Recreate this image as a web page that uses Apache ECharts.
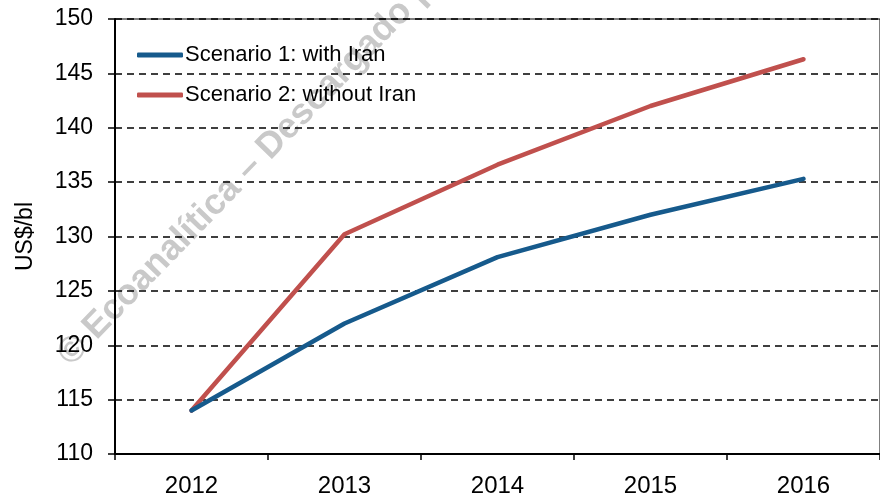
<!DOCTYPE html>
<html><head><meta charset="utf-8">
<script src="https://cdn.jsdelivr.net/npm/echarts@6/dist/echarts.min.js"></script>
<style>html,body{margin:0;padding:0;background:#fff}#c{width:880px;height:498px}</style>
</head><body><div id="c"></div>
<script>
const categories = ['2012', '2013', '2014', '2015', '2016'];
const scenario1 = [114.0, 122.0, 128.1, 132.0, 135.3];
const scenario2 = [114.0, 130.2, 136.6, 142.0, 146.3];
const seriesNames = ['Scenario 1: with Iran', 'Scenario 2: without Iran'];
const yAxisName = 'US$/bl';
const watermark = '© Ecoanalítica – Descargado por';

const chart = echarts.init(document.getElementById('c'));
const font = 'Liberation Sans, Arial, sans-serif';
chart.setOption({
  animation: false,
  grid: { left: 115, top: 19, width: 772, bottom: 43, containLabel: false,
          show: true, borderColor: '#000', borderWidth: 1, backgroundColor: 'transparent' },
  legend: {
    left: 137, top: 44, orient: 'vertical', itemGap: 18, padding: 0,
    itemWidth: 46, itemHeight: 5, icon: 'roundRect',
    textStyle: { fontFamily: font, fontSize: 22, lineHeight: 22, color: '#000', padding: [0, 0, 0, -3] },
    data: seriesNames
  },
  xAxis: {
    type: 'category', data: categories, boundaryGap: true,
    axisLine: { lineStyle: { color: '#000', width: 2 } },
    axisTick: { show: true, length: 6, lineStyle: { color: '#000', width: 1.5 } },
    axisLabel: { fontFamily: font, fontSize: 24, color: '#000', margin: 20 }
  },
  yAxis: {
    type: 'value', min: 110, max: 150, interval: 5,
    name: yAxisName, nameLocation: 'middle', nameGap: 78, nameRotate: 90,
    nameTextStyle: { fontFamily: font, fontSize: 23, color: '#000' },
    axisLine: { show: true, lineStyle: { color: '#000', width: 2 } },
    axisTick: { show: true, length: 7, lineStyle: { color: '#000', width: 1.5 } },
    axisLabel: { fontFamily: font, fontSize: 23, color: '#000', margin: 22 },
    splitLine: { show: true, lineStyle: { color: '#000', width: 1.5, type: [7, 5] } }
  },
  graphic: [{
    type: 'text', z: -1, silent: true,
    x: 64, y: 360, rotation: 46 * Math.PI / 180,
    style: { text: watermark, x: 0, y: 0, textAlign: 'left', textVerticalAlign: 'middle',
             font: 'bold 36px ' + font, fill: '#c9c9c9' }
  }],
  series: [
    { name: seriesNames[0], type: 'line', data: scenario1, symbol: 'none',
      lineStyle: { color: '#165A8C', width: 4.5, cap: 'round', join: 'round' }, itemStyle: { color: '#165A8C' }, z: 3 },
    { name: seriesNames[1], type: 'line', data: scenario2, symbol: 'none',
      lineStyle: { color: '#C0504D', width: 4.5, cap: 'round', join: 'round' }, itemStyle: { color: '#C0504D' }, z: 2 }
  ]
});
</script></body></html>
